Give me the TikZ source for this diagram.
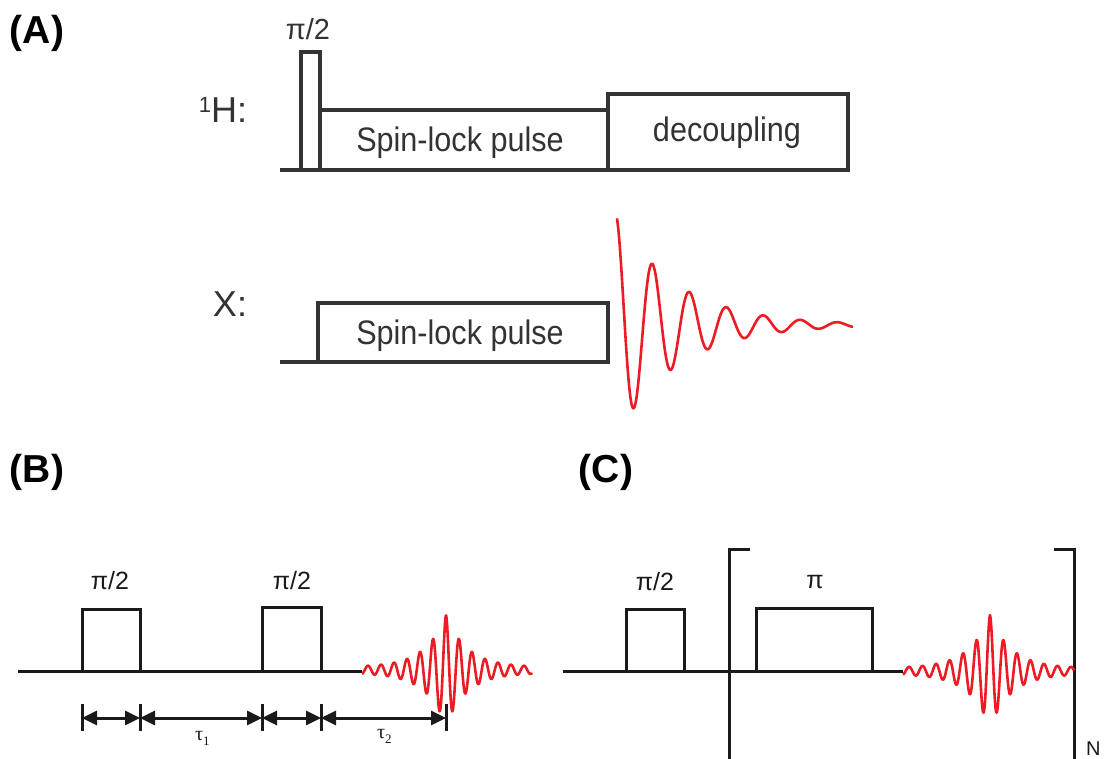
\documentclass[tikz,border=0pt]{standalone}
\usepackage{fontspec}
\setmainfont{Liberation Sans}
\newfontfamily\cond{Liberation Sans}[FakeStretch=0.9]
\newfontfamily\serifg{Liberation Serif}
\usetikzlibrary{arrows.meta}
\definecolor{sigred}{HTML}{ED1C24}
\definecolor{lineA}{HTML}{333333}
\definecolor{lineB}{HTML}{1A1A1A}
\begin{document}
\begin{tikzpicture}[x=1pt,y=-1pt,
  seqA/.style={line width=3.8pt, draw=lineA},
  seqB/.style={line width=3pt, draw=lineB},
  boxA/.style={seqA, rectangle, inner sep=0pt, outer sep=0pt, anchor=south west},
  boxB/.style={seqB, rectangle, inner sep=0pt, outer sep=0pt, anchor=south west},
  fid/.style={line width=2.6pt, draw=sigred, line join=round},
  plabel/.style={font=\bfseries\fontsize{39}{40}\selectfont, inner sep=0pt},
  chan/.style={font=\fontsize{36}{40}\selectfont, inner sep=0pt, anchor=base, text=lineA},
  boxtxt/.style={font=\cond\fontsize{34}{36}\selectfont, inner sep=0pt, anchor=base, text=lineA},
  ang/.style={font=\fontsize{25}{28}\selectfont, inner sep=0pt, text=lineB},
  tau/.style={font=\serifg\fontsize{20}{22}\selectfont, inner sep=0pt, text=lineB, anchor=base west},
  dim/.style={line width=3pt, draw=lineB, {Triangle[length=15pt,width=14pt]}-{Triangle[length=15pt,width=14pt]}},
  tick/.style={line width=3pt, draw=lineB}
]
\useasboundingbox (0,0) rectangle (1104,759);

% ---------------- Panel A ----------------
\node[plabel] (labA) at (37,33) {(A)};

% 1H channel
\node[chan] (hlab) at (223,123) {\raisebox{10pt}{\fontsize{22}{22}\selectfont 1}H:};
\draw[seqA] (280,170) -- (850,170);
\node[ang, font=\fontsize{29}{30}\selectfont, text=lineA] (hp90) at (308,29) {π/2};
\node[boxA, minimum width=288, minimum height=60] (slH) at (320,170) {};
\node[boxA, minimum width=240, minimum height=76] (dec) at (608,170) {};
\node[boxA, minimum width=19, minimum height=118] (p90) at (301,170) {};
\node[boxtxt] (slHt) at (460,152) {Spin-lock pulse};
\node[boxtxt] (dect) at (727,142) {decoupling};

% X channel
\node[chan] (xlab) at (230,317) {X:};
\draw[seqA] (280,362) -- (318,362);
\node[boxA, minimum width=290, minimum height=59] (slX) at (318,362) {};
\node[boxtxt] (slXt) at (460,345) {Spin-lock pulse};

% FID (t = offset from first minimum)
\draw[fid] plot[domain=-17:219, samples=320, smooth]
  ({634+\x}, {325 + 83*exp(-\x/60)*cos(\x/37*360)});

% ---------------- Panel B ----------------
\node[plabel] (labB) at (37,472) {(B)};
\draw[seqB] (18,671) -- (362,671);
\node[boxB, minimum width=58, minimum height=62] (b90a) at (82,671) {};
\node[boxB, minimum width=59, minimum height=64] (b90b) at (262,671) {};
\node[ang] (lb90a) at (110,581) {π/2};
\node[ang] (lb90b) at (292,581) {π/2};
\draw[fid] plot[domain=-84:86, samples=500, smooth]
  ({446+\x}, {670 - (52*exp(-abs(\x)/21)+3)*cos(\x/13*360)});

\coordinate (d1) at (82,718);
\coordinate (d2) at (140,718);
\coordinate (d3) at (262,718);
\coordinate (d4) at (321,718);
\coordinate (d5) at (446,718);
\foreach \xx in {82,140,262,321,446} \draw[tick] (\xx,704) -- (\xx,731);
\draw[dim] (d1) -- (d2);
\draw[dim] (d2) -- (d3);
\draw[dim] (d3) -- (d4);
\draw[dim] (d4) -- (d5);
\node[tau] (t1) at (195,740) {τ\raisebox{-5pt}{\fontsize{13}{13}\selectfont 1}};
\node[tau] (t2) at (377,738) {τ\raisebox{-5pt}{\fontsize{13}{13}\selectfont 2}};

% ---------------- Panel C ----------------
\node[plabel] (labC) at (606,472) {(C)};
\draw[seqB] (563,671) -- (903,671);
\node[boxB, minimum width=58, minimum height=62] (c90) at (626,671) {};
\node[boxB, minimum width=116, minimum height=63] (c180) at (756,671) {};
\node[ang] (lc90) at (655,582) {π/2};
\node[ang] (lc180) at (815,582) {π};
\draw[seqB] (750,549) -- (729,549) -- (729,762);
\draw[seqB] (1054,549) -- (1074,549) -- (1074,762);
\draw[fid] plot[domain=-87:84, samples=500, smooth]
  ({990+\x}, {671 - (53*exp(-abs(\x)/21)+3)*cos(\x/13.5*360)});
\node[font=\fontsize{20}{22}\selectfont, inner sep=0pt, anchor=base west, text=lineB] (nlab) at (1086,755) {N};
\end{tikzpicture}
\end{document}
